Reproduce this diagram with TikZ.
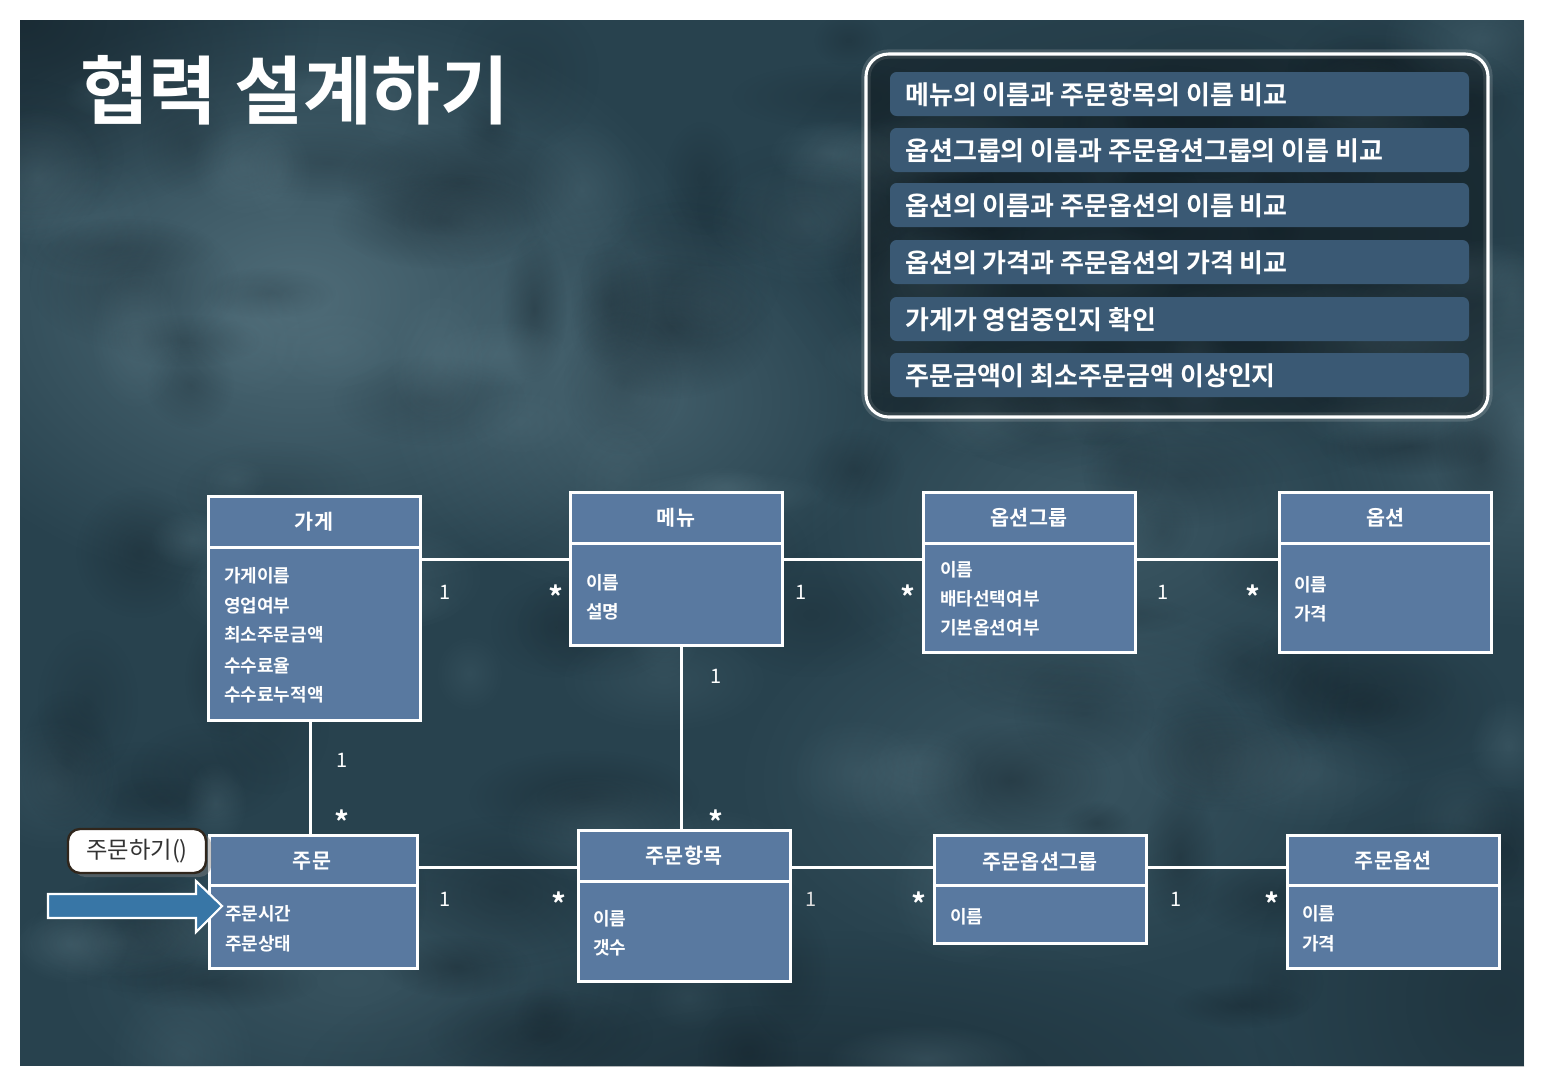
\documentclass[tikz,border=0pt]{standalone}
\usepackage{fontspec}
\setmainfont{Noto Sans CJK KR}[BoldFont={Noto Sans CJK KR Bold}]
\usetikzlibrary{fadings,shadows}
\definecolor{bgbase}{RGB}{40,66,78}
\definecolor{bglight}{RGB}{92,122,134}
\definecolor{bgdark}{RGB}{20,34,42}
\definecolor{classfill}{RGB}{89,121,160}
\definecolor{barfill}{RGB}{58,89,116}
\definecolor{arrowfill}{RGB}{56,118,166}
\definecolor{calloutborder}{RGB}{48,38,28}
\tikzfading[name=glowfade, inner color=transparent!0, outer color=transparent!100]
\begin{document}
\begin{tikzpicture}[x=0.75pt,y=-0.75pt,
  classbox/.style={draw=white, line width=2.25pt, fill=classfill, inner sep=0pt, outer sep=0pt, anchor=north west},
  hdr/.style={text=white, inner sep=0pt, font=\bfseries\fontsize{15.5}{16}\selectfont},
  attr/.style={text=white, anchor=west, inner sep=0pt, font=\bfseries\fontsize{13.5}{14}\selectfont},
  mult/.style={text=white, inner sep=0pt, font=\fontsize{15}{15}\selectfont},
  star/.style={text=white, inner sep=0pt, font=\bfseries\fontsize{22}{22}\selectfont},
  conn/.style={draw=white, line width=2.25pt},
  divider/.style={draw=white, line width=2.25pt},
  bar/.style={fill=barfill, rounded corners=5pt},
  bartext/.style={text=white, anchor=west, inner sep=0pt, font=\bfseries\fontsize{19.5}{20}\selectfont},
  glow/.style={path fading=glowfade}]
\useasboundingbox (0,0) rectangle (1542,1090);
\fill[white] (0,0) rectangle (1542,1090);
% background
\begin{scope}
\clip (20,20) rectangle (1524,1066);
\fill[bgbase] (20,20) rectangle (1524,1066);
\fill[bglight, glow, fill opacity=0.75] (300,300) ellipse (420 and 300);
\fill[bglight, glow, fill opacity=0.5] (640,400) ellipse (260 and 200);
\fill[bglight, glow, fill opacity=0.4] (1100,520) ellipse (300 and 200);
\fill[bglight, glow, fill opacity=0.5] (1520,430) ellipse (200 and 200);
\fill[bglight, glow, fill opacity=0.35] (1050,780) ellipse (320 and 200);
\fill[bglight, glow, fill opacity=0.3] (350,980) ellipse (300 and 150);
\fill[bgdark, glow, fill opacity=0.7] (20,20) ellipse (300 and 200);
\fill[bgdark, glow, fill opacity=0.5] (800,1080) ellipse (500 and 150);
\fill[bgdark, glow, fill opacity=0.4] (1500,1000) ellipse (250 and 250);
\fill[bgdark, glow, fill opacity=0.4] (1180,230) ellipse (420 and 260);
\pgfmathsetseed{7}
\foreach \k in {1,...,90}{
  \pgfmathsetmacro{\blobx}{20+rnd*1504}
  \pgfmathsetmacro{\bloby}{20+rnd*1046}
  \pgfmathsetmacro{\blobrx}{30+rnd*90}
  \pgfmathsetmacro{\blobry}{20+rnd*60}
  \pgfmathsetmacro{\blobop}{0.15+rnd*0.3}
  \fill[bgdark, glow, fill opacity=\blobop] (\blobx,\bloby) ellipse [x radius=\blobrx, y radius=\blobry];
}
\foreach \k in {1,...,70}{
  \pgfmathsetmacro{\blobx}{20+rnd*1504}
  \pgfmathsetmacro{\bloby}{20+rnd*1046}
  \pgfmathsetmacro{\blobrx}{30+rnd*90}
  \pgfmathsetmacro{\blobry}{20+rnd*60}
  \pgfmathsetmacro{\blobop}{0.1+rnd*0.25}
  \fill[bglight, glow, fill opacity=\blobop] (\blobx,\bloby) ellipse [x radius=\blobrx, y radius=\blobry];
}
\end{scope}
% title
\node[text=white, anchor=west, inner sep=0pt, font=\bfseries\fontsize{56}{56}\selectfont] (title) at (80,90) {협력 설계하기};
% panel
\draw[white, opacity=0.15, line width=7pt, rounded corners=17pt] (866,54) rectangle (1488,417);
\draw[white, line width=2.3pt, rounded corners=17pt, fill=black, fill opacity=0.3] (866,54) rectangle (1488,417);
\fill[bar] (890,72) rectangle (1469,116);
\fill[bar] (890,128) rectangle (1469,172);
\fill[bar] (890,183) rectangle (1469,227);
\fill[bar] (890,240) rectangle (1469,284);
\fill[bar] (890,297) rectangle (1469,341);
\fill[bar] (890,353) rectangle (1469,397);
\node[bartext] (r1) at (905,95) {메뉴의 이름과 주문항목의 이름 비교};
\node[bartext] (r2) at (905,151) {옵션그룹의 이름과 주문옵션그룹의 이름 비교};
\node[bartext] (r3) at (905,206) {옵션의 이름과 주문옵션의 이름 비교};
\node[bartext] (r4) at (905,263) {옵션의 가격과 주문옵션의 가격 비교};
\node[bartext] (r5) at (905,320) {가게가 영업중인지 확인};
\node[bartext] (r6) at (905,376) {주문금액이 최소주문금액 이상인지};
% class boxes
\node[classbox, minimum width=159pt, minimum height=168pt] (gage) at (208,496) {};
\node[classbox, minimum width=159pt, minimum height=114.75pt] (menu) at (570,492) {};
\node[classbox, minimum width=159pt, minimum height=120pt] (ogroup) at (923,492) {};
\node[classbox, minimum width=159pt, minimum height=120pt] (option) at (1279,492) {};
\node[classbox, minimum width=156pt, minimum height=99.75pt] (order) at (209,835) {};
\node[classbox, minimum width=159pt, minimum height=113.25pt] (oitem) at (578,830) {};
\node[classbox, minimum width=159pt, minimum height=81pt] (oogroup) at (934,835) {};
\node[classbox, minimum width=159pt, minimum height=99.75pt] (ooption) at (1287,835) {};
% dividers
\draw[divider] (gage.west |- 0,547) -- (gage.east |- 0,547);
\draw[divider] (menu.west |- 0,543) -- (menu.east |- 0,543);
\draw[divider] (ogroup.west |- 0,543) -- (ogroup.east |- 0,543);
\draw[divider] (option.west |- 0,543) -- (option.east |- 0,543);
\draw[divider] (order.west |- 0,885) -- (order.east |- 0,885);
\draw[divider] (oitem.west |- 0,881) -- (oitem.east |- 0,881);
\draw[divider] (oogroup.west |- 0,885) -- (oogroup.east |- 0,885);
\draw[divider] (ooption.west |- 0,885) -- (ooption.east |- 0,885);
% headers
\node[hdr] (gage-t) at (314,522) {가게};
\node[hdr] (menu-t) at (676,518) {메뉴};
\node[hdr] (ogroup-t) at (1029,518) {옵션그룹};
\node[hdr] (option-t) at (1385,518) {옵션};
\node[hdr] (order-t) at (312,861) {주문};
\node[hdr] (oitem-t) at (684,856) {주문항목};
\node[hdr] (oogroup-t) at (1040,862) {주문옵션그룹};
\node[hdr] (ooption-t) at (1393,861) {주문옵션};
% attributes
\node[attr] (gage-a1) at (224,576) {가게이름};
\node[attr] (gage-a2) at (224,606) {영업여부};
\node[attr] (gage-a3) at (224,635) {최소주문금액};
\node[attr] (gage-a4) at (224,666) {수수료율};
\node[attr] (gage-a5) at (224,695) {수수료누적액};
\node[attr] (menu-a1) at (586,583) {이름};
\node[attr] (menu-a2) at (586,612) {설명};
\node[attr] (ogroup-a1) at (940,570) {이름};
\node[attr] (ogroup-a2) at (940,599) {배타선택여부};
\node[attr] (ogroup-a3) at (940,628) {기본옵션여부};
\node[attr] (option-a1) at (1294,585) {이름};
\node[attr] (option-a2) at (1294,614) {가격};
\node[attr] (order-a1) at (225,914) {주문시간};
\node[attr] (order-a2) at (225,944) {주문상태};
\node[attr] (oitem-a1) at (593,919) {이름};
\node[attr] (oitem-a2) at (593,948) {갯수};
\node[attr] (oogroup-a1) at (950,917) {이름};
\node[attr] (ooption-a1) at (1302,914) {이름};
\node[attr] (ooption-a2) at (1302,944) {가격};
% connectors
\draw[conn] (gage.east |- 0,559) -- (menu.west |- 0,559);
\draw[conn] (menu.east |- 0,559) -- (ogroup.west |- 0,559);
\draw[conn] (ogroup.east |- 0,559) -- (option.west |- 0,559);
\draw[conn] (gage.south -| 310,0) -- (order.north -| 310,0);
\draw[conn] (menu.south -| 681,0) -- (oitem.north -| 681,0);
\draw[conn] (order.east |- 0,867) -- (oitem.west |- 0,867);
\draw[conn] (oitem.east |- 0,867) -- (oogroup.west |- 0,867);
\draw[conn] (oogroup.east |- 0,867) -- (ooption.west |- 0,867);
% multiplicities
\node[mult] (m1) at (445,592) {1};
\node[star] (s1) at (556,597) {*};
\node[mult] (m2) at (801,592) {1};
\node[star] (s2) at (908,597) {*};
\node[mult] (m3) at (1163,592) {1};
\node[star] (s3) at (1253,597) {*};
\node[mult] (m4) at (342,760) {1};
\node[star] (s4) at (342,822) {*};
\node[mult] (m5) at (716,676) {1};
\node[star] (s5) at (716,822) {*};
\node[mult] (m6) at (445,899) {1};
\node[star] (s6) at (559,904) {*};
\node[mult, text=white!75!gray] (m7) at (811,899) {1};
\node[star] (s7) at (919,904) {*};
\node[mult] (m8) at (1176,899) {1};
\node[star] (s8) at (1272,904) {*};
% callout and arrow
\node[draw=calloutborder, line width=1.8pt, fill=white, rounded corners=9pt, minimum width=103.5pt, minimum height=33pt, inner sep=0pt,
  drop shadow={opacity=0.45, shadow xshift=4pt, shadow yshift=-3pt},
  text=black!80, font=\fontsize{17.5}{17.5}\selectfont] (call) at (137,851) {주문하기()};
\coordinate (arrowtip) at (222,906);
\draw[white, line width=1.6pt, fill=arrowfill, line join=miter]
  (48,894) -- (196,894) -- (196,881) -- (arrowtip) -- (196,932) -- (196,918) -- (48,918) -- cycle;
\end{tikzpicture}
\end{document}
